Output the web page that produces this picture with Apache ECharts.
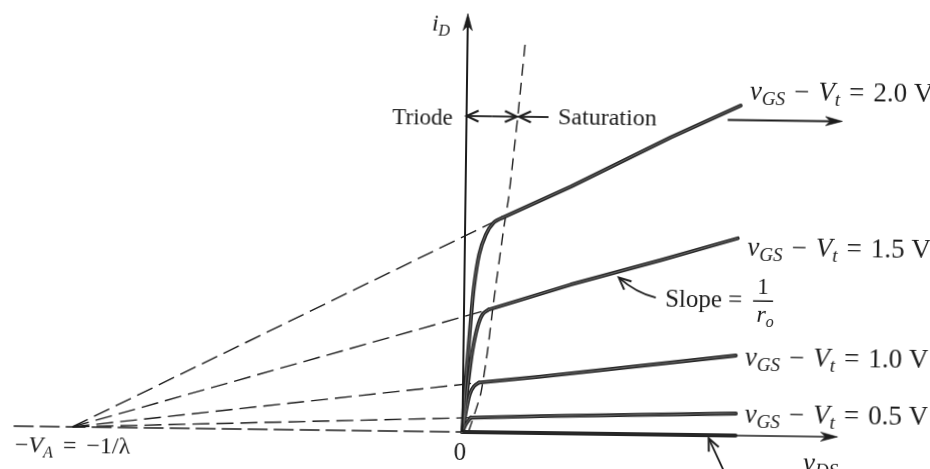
<!DOCTYPE html>
<html>
<head>
<meta charset="utf-8">
<script src="https://cdn.jsdelivr.net/npm/echarts@6/dist/echarts.min.js"></script>
<style>
  html, body { margin: 0; padding: 0; background: #fff; overflow: hidden; }
  #chart { width: 930px; height: 469px; transform: rotate(0.75deg); }
</style>
</head>
<body>
<div id="chart"></div>
<script>
// MOSFET output characteristics: iD versus vDS for four overdrive voltages,
// with the saturation lines extrapolated back to -VA = -1/lambda.

const overdriveLabels = ['2.0', '1.5', '1.0', '0.5'];

// Triode region: origin up to the knee, [vDS, iD]
const triode20 = [[0, 0], [0.03, 0.76], [0.10, 1.76], [0.17, 2.76], [0.24, 3.62], [0.36, 4.44], [0.52, 4.94], [0.72, 5.25], [0.93, 5.37]];
const triode15 = [[0, 0], [0.06, 0.61], [0.13, 1.26], [0.22, 2.01], [0.34, 2.62], [0.46, 2.94], [0.62, 3.07]];
const triode10 = [[0, 0], [0.08, 0.51], [0.17, 0.94], [0.27, 1.14], [0.40, 1.24]];
const triode05 = [[0, 0], [0.08, 0.19], [0.20, 0.36]];

// Saturation region: knee to the end of each line, [vDS, iD]
const sat20 = [[0.93, 5.37], [2.63, 6.17], [5.11, 7.43], [6.85, 8.25]];
const sat15 = [[0.62, 3.07], [2.66, 3.72], [4.90, 4.36], [6.82, 4.93]];
const sat10 = [[0.40, 1.24], [1.94, 1.41], [6.81, 2.00]];
const sat05 = [[0.20, 0.36], [1.95, 0.42], [6.83, 0.55]];

// vGS <= Vt: no current
const cutoff = [[0, 0], [6.83, 0]];

// Early voltage: all saturation lines meet the vDS axis at -VA
const VA = 9.75;

// Edge of saturation, vDS = vGS - Vt
const satEdge = [[0.15, 0], [0.44, 0.94], [0.60, 2.02], [0.73, 3.20], [0.97, 5.13], [1.08, 5.88], [1.28, 7.90], [1.44, 9.71]];

// Axis extents
const iDTop = 10.46;
const vDSEnd = 9.38;
const vDSLeft = -11.22;

const INK = '#1c1c1c';
const CURVE = '#262626';
const serif = '"Liberation Serif", "Times New Roman", serif';

const curveSets = [
  { label: overdriveLabels[0], triode: triode20, sat: sat20 },
  { label: overdriveLabels[1], triode: triode15, sat: sat15 },
  { label: overdriveLabels[2], triode: triode10, sat: sat10 },
  { label: overdriveLabels[3], triode: triode05, sat: sat05 }
];

// Arrows drawn on top of the plot, in vDS / iD coordinates
const arrowMarks = [
  { from: [0, 0], to: [0, iDTop], head: 'fill', width: 2 },
  { from: [0, 0], to: [vDSEnd, 0], head: 'fill', width: 1.7 },
  { from: [0.63, 7.9], to: [0, 7.9], head: 'open', width: 1.8 },
  { from: [0.63, 7.9], to: [1.26, 7.9], head: 'open', width: 1.8 },
  { from: [2.05, 7.9], to: [1.31, 7.9], head: 'open', width: 1.8 },
  { from: [6.53, 7.89], to: [9.40, 7.89], head: 'fill', width: 2 },
  { from: [4.79, 3.42], to: [3.86, 3.91], head: 'open', width: 1.8, ctrl: [4.29, 3.54] },
  { from: [6.60, -1.0], to: [6.16, -0.08], head: 'open', width: 1.8 }
];

function renderArrow(params, api) {
  const a = arrowMarks[params.dataIndex];
  const p1 = api.coord(a.from);
  const p2 = api.coord(a.to);
  const c = a.ctrl ? api.coord(a.ctrl) : null;
  const back = c || p1;
  let ux = p2[0] - back[0], uy = p2[1] - back[1];
  const len = Math.hypot(ux, uy);
  ux /= len; uy /= len;
  const nx = -uy, ny = ux;
  const children = [];
  let shaftEnd = p2;
  if (a.head === 'fill') {
    const L = 17, W = 4.6;
    const bx = p2[0] - L * ux, by = p2[1] - L * uy;
    const notch = [p2[0] - 0.72 * L * ux, p2[1] - 0.72 * L * uy];
    shaftEnd = notch;
    children.push({
      type: 'polygon',
      shape: { points: [p2, [bx + W * nx, by + W * ny], notch, [bx - W * nx, by - W * ny]] },
      style: { fill: INK, stroke: INK, lineWidth: 0.6 }
    });
  } else {
    const L = 12, W = 5.5;
    const bx = p2[0] - L * ux, by = p2[1] - L * uy;
    children.push({
      type: 'polyline',
      shape: { points: [[bx + W * nx, by + W * ny], p2, [bx - W * nx, by - W * ny]] },
      style: { stroke: INK, lineWidth: 2, fill: null, lineJoin: 'miter' }
    });
  }
  if (c) {
    children.push({
      type: 'bezierCurve',
      shape: { x1: p1[0], y1: p1[1], x2: shaftEnd[0], y2: shaftEnd[1], cpx1: c[0], cpy1: c[1] },
      style: { stroke: INK, lineWidth: a.width, fill: null }
    });
  } else {
    children.push({
      type: 'line',
      shape: { x1: p1[0], y1: p1[1], x2: shaftEnd[0], y2: shaftEnd[1] },
      style: { stroke: INK, lineWidth: a.width }
    });
  }
  return { type: 'group', children: children };
}

const series = [];

// Left part of the vDS axis, dashed
series.push({
  type: 'line', data: [[vDSLeft, 0], [0, 0]], symbol: 'none', silent: true, z: 2,
  lineStyle: { color: INK, width: 1.5, type: [20, 6] }
});

// Extrapolated saturation lines back to -VA
curveSets.forEach(function (c) {
  series.push({
    type: 'line', data: [[-VA, 0], c.sat[0]], symbol: 'none', silent: true, z: 2,
    lineStyle: { color: INK, width: 1.4, type: [17, 7] }
  });
});

// Edge of saturation
series.push({
  type: 'line', data: satEdge, symbol: 'none', silent: true, smooth: 0.2, z: 2,
  lineStyle: { color: INK, width: 1.4, type: [12, 7] }
});

// Characteristic curves: rounded triode part, straight saturation part.
// Each stroke gets a faint light core so the heavy pen line reads as a double edge.
const curveStyle = { color: CURVE, width: 3.8, cap: 'round', join: 'round' };
const coreStyle = { color: 'rgba(255,255,255,0.35)', width: 0.9, cap: 'round', join: 'round' };
const curveParts = [];
curveSets.forEach(function (c) {
  curveParts.push({ name: c.label, data: c.triode, smooth: 0.3 });
  curveParts.push({ name: c.label, data: c.sat, smooth: false });
});
curveParts.push({ name: 'cutoff', data: cutoff, smooth: false });
curveParts.forEach(function (p) {
  series.push({
    name: p.name, type: 'line', data: p.data, symbol: 'none', silent: true,
    smooth: p.smooth, z: 4, lineStyle: curveStyle
  });
});
curveParts.forEach(function (p) {
  series.push({
    name: p.name, type: 'line', data: p.data, symbol: 'none', silent: true,
    smooth: p.smooth, z: 5, lineStyle: coreStyle
  });
});

// Axes and annotation arrows
series.push({
  type: 'custom', renderItem: renderArrow, silent: true, z: 6, clip: false,
  data: arrowMarks.map(function (a) { return [a.from[0], a.from[1], a.to[0], a.to[1]]; })
});

function rich(size, subSize, gap) {
  return {
    n: { fontFamily: serif, fontSize: size, lineHeight: size + 6, fill: INK },
    op: { fontFamily: serif, fontSize: size, lineHeight: size + 6, fill: INK, padding: [0, gap, 0, gap] },
    it: { fontFamily: serif, fontSize: size, fontStyle: 'italic', lineHeight: size + 6, fill: INK },
    sub: { fontFamily: serif, fontSize: subSize, fontStyle: 'italic', lineHeight: subSize - 2, verticalAlign: 'bottom', fill: INK }
  };
}

function textEl(x, y, text, size, subSize, align, gap) {
  return {
    type: 'text', x: x, y: y, silent: true, z: 10,
    style: {
      text: text, fill: INK, font: size + 'px ' + serif,
      align: align, textAlign: align, verticalAlign: 'middle', textVerticalAlign: 'middle',
      rich: rich(size, subSize, gap || 0)
    }
  };
}

function overdriveText(v) {
  return '{it|v}{sub|GS}{op|\u2212}{it|V}{sub|t}{op|=}{n|' + v + ' V}';
}

const eqPositions = [[748, 88.5], [747.5, 244.5], [746.5, 354.5], [747, 411.5]];

const graphics = [
  textEl(438.3, 24.3, '{it|i}{sub|D}', 24, 16, 'center'),
  textEl(421, 118.6, '{n|Triode}', 23, 16, 'center'),
  textEl(556.5, 116.8, '{n|Saturation}', 24, 16, 'left'),
  textEl(665.9, 297.4, '{n|Slope =}', 25, 17, 'left'),
  textEl(763.7, 284.1, '{n|1}', 23, 16, 'center'),
  textEl(766.1, 312.1, '{it|r}{sub|o}', 24, 16, 'center'),
  textEl(17.8, 451.8, '{n|\u2212}{it|V}{sub|A}{op|=}{n|\u22121/\u03bb}', 24, 16, 'left', 10),
  textEl(462.8, 453.1, '{n|0}', 25, 17, 'center'),
  textEl(806, 460.3, '{it|v}{sub|DS}', 27, 19, 'left'),
  {
    type: 'line', silent: true, z: 10,
    shape: { x1: 753.9, y1: 297.2, x2: 773.9, y2: 297.2 },
    style: { stroke: INK, lineWidth: 1.5 }
  }
];
curveSets.forEach(function (c, i) {
  graphics.push(textEl(eqPositions[i][0], eqPositions[i][1], overdriveText(c.label), 27, 19, 'left', 9));
});

const chart = echarts.init(document.getElementById('chart'), null, { renderer: 'canvas' });
chart.setOption({
  animation: false,
  backgroundColor: 'transparent',
  grid: { left: 5, right: 5, top: 12, bottom: 1, containLabel: false },
  xAxis: { type: 'value', min: -11.5, max: 11.5, show: false },
  yAxis: { type: 'value', min: -0.9, max: 10.5, show: false },
  tooltip: { show: false },
  series: series,
  graphic: graphics
});
</script>
</body>
</html>
